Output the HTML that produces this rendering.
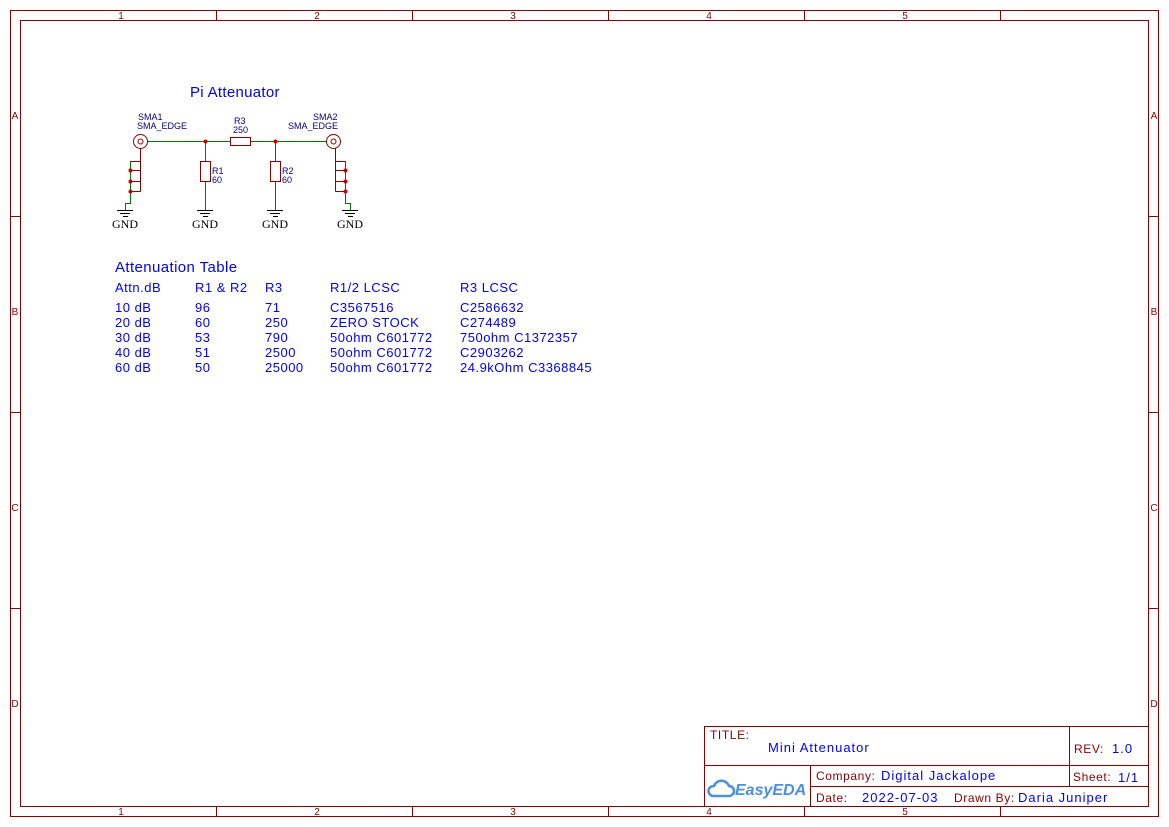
<!DOCTYPE html>
<html><head><meta charset="utf-8"><style>
body{margin:0;background:#fff;}
svg{display:block;}
</style></head><body>
<svg width="1169" height="827" xmlns="http://www.w3.org/2000/svg" font-family="Liberation Sans, sans-serif">
<g stroke="#8b0000" fill="none" stroke-width="1">
<rect x="10.5" y="10.5" width="1148" height="806"/>
<rect x="20.5" y="20.5" width="1128" height="786"/>
<path d="M216.5 10.5V20.5M412.5 10.5V20.5M608.5 10.5V20.5M804.5 10.5V20.5M1000.5 10.5V20.5M216.5 806.5V816.5M412.5 806.5V816.5M608.5 806.5V816.5M804.5 806.5V816.5M1000.5 806.5V816.5M10.5 216.5H20.5M10.5 412.5H20.5M10.5 608.5H20.5M1148.5 216.5H1158.5M1148.5 412.5H1158.5M1148.5 608.5H1158.5"/>
<rect x="704.5" y="726.5" width="444" height="80"/>
<path d="M704.5 765.5H1148.5M810.5 786.5H1148.5M810.5 765.5V806.5M1069.5 726.5V786.5"/>
</g>
<g fill="#8b0000" font-size="10" text-anchor="middle">
<text x="121" y="19">1</text><text x="317" y="19">2</text><text x="513" y="19">3</text><text x="709" y="19">4</text><text x="905" y="19">5</text>
<text x="121" y="815">1</text><text x="317" y="815">2</text><text x="513" y="815">3</text><text x="709" y="815">4</text><text x="905" y="815">5</text>
<text x="15" y="119">A</text><text x="15" y="315">B</text><text x="15" y="511">C</text><text x="15" y="707">D</text>
<text x="1154" y="119">A</text><text x="1154" y="315">B</text><text x="1154" y="511">C</text><text x="1154" y="707">D</text>
</g>
<g font-size="12" fill="#8b0000" letter-spacing="0.6">
<text x="710" y="739">TITLE:</text>
<text x="1074" y="753">REV:</text>
<text x="816" y="780">Company:</text>
<text x="1073" y="781">Sheet:</text>
<text x="816" y="802">Date:</text>
<text x="954" y="802">Drawn By:</text>
</g>
<g font-size="13" fill="#0000ff" letter-spacing="1">
<text x="768" y="752">Mini Attenuator</text>
<text x="1112" y="753">1.0</text>
<text x="881" y="780">Digital Jackalope</text>
<text x="1118" y="782">1/1</text>
<text x="862" y="802">2022-07-03</text>
<text x="1018" y="802">Daria Juniper</text>
</g>
<g>
<path d="M713 796a5 5 0 0 1 1-10a8 8 0 0 1 15 0a5 5 0 0 1 0 10z" fill="none" stroke="#4a8fe0" stroke-width="2.5"/>
<text x="735" y="795" font-size="16" font-weight="bold" font-style="italic" fill="#4a8fe0">EasyEDA</text>
</g>
<text x="190" y="97" font-size="15" fill="#0000ff" letter-spacing="0.3">Pi Attenuator</text>
<g font-size="9" fill="#000080">
<text x="138" y="120">SMA1</text><text x="137" y="129">SMA_EDGE</text>
<text x="234" y="124">R3</text><text x="233" y="133">250</text>
<text x="313" y="120">SMA2</text><text x="288" y="129">SMA_EDGE</text>
<text x="212" y="174">R1</text><text x="212" y="183">60</text>
<text x="282" y="174">R2</text><text x="282" y="183">60</text>
</g>
<g stroke="#007700" fill="none">
<path d="M147 141.5H230M250 141.5H326M205.5 141.5V161M205.5 181V210M275.5 141.5V161M275.5 181V210M130.5 161V203.5H125.5V210M345.5 161V203.5H350.5V210"/>
</g>
<g stroke="#8b0000" fill="none">
<circle cx="140.5" cy="141.5" r="7"/><circle cx="140.5" cy="141.5" r="2.5"/>
<circle cx="333.5" cy="141.5" r="7"/><circle cx="333.5" cy="141.5" r="2.5"/>
<rect x="230.5" y="137.5" width="20" height="8"/>
<rect x="200.5" y="161.5" width="10" height="20"/>
<rect x="270.5" y="161.5" width="10" height="20"/>
<path d="M140.5 148.5V191.5M130.5 161.5H140.5M130.5 170.5H140.5M130.5 181.5H140.5M130.5 191.5H140.5"/>
<path d="M335.5 148.5V191.5M335.5 161.5H345.5M335.5 170.5H345.5M335.5 181.5H345.5M335.5 191.5H345.5"/>
</g>
<g fill="#cc0000">
<circle cx="205.5" cy="141.5" r="2"/><circle cx="275.5" cy="141.5" r="2"/>
<circle cx="130.5" cy="170.5" r="2"/><circle cx="130.5" cy="181.5" r="2"/><circle cx="130.5" cy="191.5" r="2"/>
<circle cx="345.5" cy="170.5" r="2"/><circle cx="345.5" cy="181.5" r="2"/><circle cx="345.5" cy="191.5" r="2"/>
</g>
<g stroke="#000" fill="none">
<path d="M117 210.5H133M120 213.5H130M123 216.5H128"/>
<path d="M197 210.5H213M200 213.5H210M203 216.5H208"/>
<path d="M267 210.5H283M270 213.5H280M273 216.5H278"/>
<path d="M342 210.5H358M345 213.5H355M348 216.5H353"/>
</g>
<g font-family="Liberation Serif, serif" font-size="12" fill="#000" text-anchor="middle">
<text x="125" y="228">GND</text><text x="205" y="228">GND</text><text x="275" y="228">GND</text><text x="350" y="228">GND</text>
</g>
<text x="115" y="272" font-size="15" fill="#0000ff" letter-spacing="0.4">Attenuation Table</text>
<g font-size="13" fill="#0000ff" letter-spacing="0.5">
<text x="115" y="292">Attn.dB</text><text x="195" y="292">R1 &amp; R2</text><text x="265" y="292">R3</text><text x="330" y="292">R1/2 LCSC</text><text x="460" y="292">R3 LCSC</text>
<text x="115" y="312">10 dB</text><text x="195" y="312">96</text><text x="265" y="312">71</text><text x="330" y="312">C3567516</text><text x="460" y="312">C2586632</text>
<text x="115" y="327">20 dB</text><text x="195" y="327">60</text><text x="265" y="327">250</text><text x="330" y="327">ZERO STOCK</text><text x="460" y="327">C274489</text>
<text x="115" y="342">30 dB</text><text x="195" y="342">53</text><text x="265" y="342">790</text><text x="330" y="342">50ohm C601772</text><text x="460" y="342">750ohm C1372357</text>
<text x="115" y="357">40 dB</text><text x="195" y="357">51</text><text x="265" y="357">2500</text><text x="330" y="357">50ohm C601772</text><text x="460" y="357">C2903262</text>
<text x="115" y="372">60 dB</text><text x="195" y="372">50</text><text x="265" y="372">25000</text><text x="330" y="372">50ohm C601772</text><text x="460" y="372">24.9kOhm C3368845</text>
</g>
</svg>
</body></html>
